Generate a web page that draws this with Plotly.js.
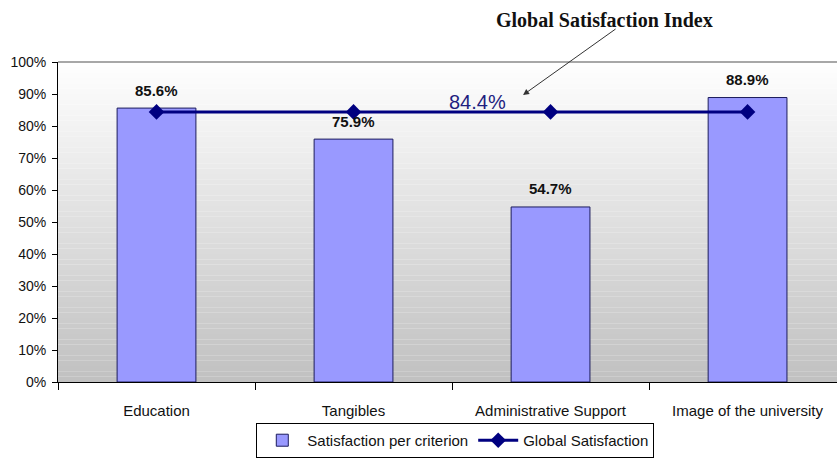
<!DOCTYPE html>
<html>
<head>
<meta charset="utf-8">
<script src="https://cdn.plot.ly/plotly-3.0.1.min.js"></script>
<style>html,body{margin:0;padding:0;background:#fff;}#chart{width:837px;height:458px;}</style>
</head>
<body>
<div id="chart"></div>
<script>
const categories = ["Education", "Tangibles", "Administrative Support", "Image of the university"];
const criterionValues = [85.6, 75.9, 54.7, 88.9];
const globalValues = [84.4, 84.4, 84.4, 84.4];
const globalIndex = 84.4;
const yTickVals = [0, 10, 20, 30, 40, 50, 60, 70, 80, 90, 100];
const yTickText = ["0%", "10%", "20%", "30%", "40%", "50%", "60%", "70%", "80%", "90%", "100%"];

// background gradient strips (white at top -> grey at bottom)
const shapes = [];
const N = 60;
for (let i = 0; i < N; i++) {
  const t = (i + 0.5) / N; // 0 bottom, 1 top
  const c = Math.round(192 + 63 * t);
  shapes.push({type: 'rect', xref: 'x domain', yref: 'y domain', x0: 0, x1: 1, y0: i / N, y1: (i + 1) / N,
    fillcolor: `rgb(${c},${c},${c})`, line: {width: 0}, layer: 'below'});
}
shapes.push({type: 'line', xref: 'x domain', yref: 'y domain', x0: 0, x1: 1, y0: 1, y1: 1,
  line: {color: '#8a8a8a', width: 1.5}, layer: 'above'});

const annotations = criterionValues.map((v, i) => ({
  x: categories[i], y: v, xref: 'x', yref: 'y', text: v.toFixed(1) + '%', showarrow: false,
  yshift: 18, font: {family: 'Liberation Sans, Arial', size: 15, color: '#111', weight: 'bold'}
}));
annotations.push({
  x: 0.538, xref: 'paper', xanchor: 'center', y: globalIndex, yref: 'y', yshift: 10, text: globalIndex.toFixed(1) + '%',
  showarrow: false, font: {family: 'Liberation Sans, Arial', size: 20, color: '#1e1e80'}
});
annotations.push({
  x: 0.702, xref: 'paper', xanchor: 'center', y: 1.131, yref: 'paper', yanchor: 'middle',
  text: '<b>Global Satisfaction Index</b>',
  showarrow: false, font: {family: 'Liberation Serif, Times New Roman', size: 20, color: '#111'}
});
annotations.push({
  x: 0.597, xref: 'paper', y: 0.897, yref: 'paper', text: '', showarrow: true,
  ax: 94, ay: -67, arrowhead: 2, arrowsize: 1.2, arrowwidth: 1, arrowcolor: '#333'
});

const traces = [
  {type: 'bar', x: categories, y: criterionValues, name: 'Satisfaction per criterion', width: 0.4,
   marker: {color: '#9999ff', line: {color: '#1c1c5c', width: 1}}, hoverinfo: 'skip'},
  {type: 'scatter', mode: 'lines+markers', x: categories, y: globalValues, name: 'Global Satisfaction',
   line: {color: '#000080', width: 3}, marker: {symbol: 'diamond', size: 12, color: '#000080'}, hoverinfo: 'skip'}
];

const layout = {
  width: 837, height: 458,
  margin: {l: 58, r: 0, t: 62, b: 76, autoexpand: false},
  paper_bgcolor: '#ffffff', plot_bgcolor: '#ffffff',
  font: {family: 'Liberation Sans, Arial', size: 14, color: '#111'},
  showlegend: true,
  legend: {orientation: 'h', x: 0.51, xanchor: 'center', y: -0.128, yanchor: 'top',
    bordercolor: '#000', borderwidth: 1, bgcolor: '#fff', font: {size: 15}, traceorder: 'normal',
    itemwidth: 40},
  bargap: 0.6,
  xaxis: {type: 'category', range: [-0.5, 3.454], showgrid: false, zeroline: false, automargin: false,
    showline: true, linecolor: '#000', linewidth: 1, ticks: 'outside', ticklen: 7, tickcolor: '#000',
    tickson: 'boundaries', ticklabelstandoff: 15, tickfont: {size: 15}},
  yaxis: {range: [0, 100], tickvals: yTickVals, ticktext: yTickText, showgrid: false, zeroline: false, automargin: false,
    showline: true, linecolor: '#000', linewidth: 1, ticks: 'outside', ticklen: 5, tickcolor: '#000',
    tickfont: {size: 14}, ticklabelstandoff: 3},
  shapes: shapes,
  annotations: annotations
};

Plotly.newPlot('chart', traces, layout, {displayModeBar: false, staticPlot: true});
</script>
</body>
</html>
